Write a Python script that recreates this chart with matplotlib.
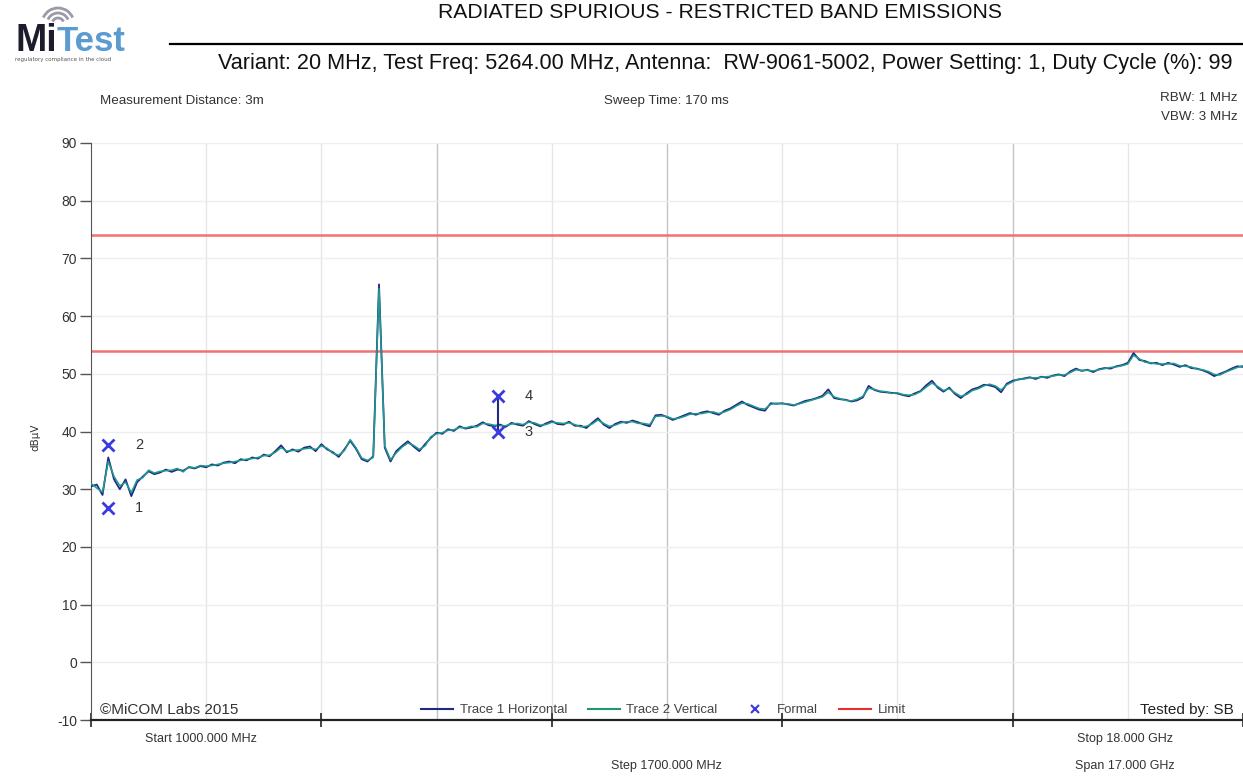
import numpy as np
import matplotlib
matplotlib.use("Agg")
import matplotlib.pyplot as plt
from matplotlib.lines import Line2D
from matplotlib.patches import Arc

# ---------------- data ----------------
freq_start = 1000.0
freq_stop = 18000.0
freq_step = 85.0
freq_mhz = np.arange(freq_start, freq_stop + 1, freq_step)

trace1_h = [
    30.5, 30.8, 29.0, 35.5, 31.7, 30.0, 31.7, 28.8, 31.2, 32.2, 33.1,
    32.6, 32.9, 33.4, 33.0, 33.4, 33.2, 33.8, 33.6, 34.0, 33.8,
    34.3, 34.1, 34.6, 34.8, 34.5, 35.2, 35.0, 35.5, 35.3, 36.0,
    35.7, 36.6, 37.6, 36.4, 36.9, 36.5, 37.2, 37.4, 36.6, 37.8,
    36.9, 36.4, 35.6, 36.9, 38.4, 37.0, 35.2, 34.8, 35.7, 65.5,
    37.2, 34.8, 36.6, 37.5, 38.3, 37.4, 36.6, 37.8, 38.9, 39.8,
    39.6, 40.4, 40.1, 40.9, 40.5, 40.7, 41.0, 41.6, 41.1, 40.9,
    41.2, 40.8, 41.5, 41.2, 41.0, 41.8, 41.3, 40.9, 41.4, 41.8,
    41.3, 41.2, 41.7, 41.0, 41.0, 40.6, 41.5, 42.3, 41.2, 40.6,
    41.3, 41.7, 41.5, 41.9, 41.6, 41.2, 40.9, 42.8, 42.9, 42.5,
    42.0, 42.4, 42.8, 43.2, 42.9, 43.3, 43.5, 43.2, 42.9, 43.6,
    44.0, 44.6, 45.2, 44.6, 44.2, 43.8, 43.6, 44.9, 44.8, 44.9,
    44.7, 44.5, 44.9, 45.3, 45.5, 45.8, 46.2, 47.3, 45.8, 45.6,
    45.5, 45.2, 45.4, 45.9, 47.9, 47.2, 46.9, 46.8, 46.7, 46.6,
    46.3, 46.1, 46.6, 47.0, 48.0, 48.8, 47.6, 46.9, 47.6, 46.5,
    45.8, 46.6, 47.3, 47.6, 48.1, 48.0, 47.7, 46.8, 48.3, 48.8,
    49.0, 49.2, 49.4, 49.1, 49.5, 49.3, 49.7, 49.9, 49.6, 50.4,
    50.9, 50.5, 50.7, 50.3, 50.8, 51.0, 50.9, 51.3, 51.5, 51.9,
    53.6, 52.4, 52.2, 51.8, 51.9, 51.5, 51.9, 51.6, 51.2, 51.5,
    51.0, 50.9, 50.6, 50.2, 49.6, 50.0, 50.4, 50.9, 51.3, 51.2,
]

trace2_v = [
    31.0, 30.2, 29.5, 34.8, 32.2, 30.6, 31.2, 29.4, 31.6, 32.0, 33.3,
    32.8, 33.1, 33.2, 33.3, 33.6, 33.0, 33.9, 33.7, 34.1, 34.0,
    34.1, 34.3, 34.5, 34.6, 34.8, 35.0, 35.2, 35.3, 35.5, 35.8,
    35.9, 36.4, 37.2, 36.6, 36.7, 36.8, 37.0, 37.1, 36.9, 37.5,
    37.1, 36.2, 35.9, 36.7, 38.6, 37.2, 35.4, 35.0, 35.5, 64.8,
    37.5, 35.1, 36.3, 37.3, 38.0, 37.6, 36.9, 37.5, 39.1, 39.6,
    39.8, 40.2, 40.3, 40.7, 40.6, 40.9, 40.8, 41.4, 41.3, 41.1,
    41.0, 41.0, 41.3, 41.4, 41.2, 41.6, 41.5, 41.1, 41.2, 41.6,
    41.5, 41.4, 41.5, 41.2, 40.8, 40.9, 41.3, 42.0, 41.4, 40.9,
    41.1, 41.5, 41.7, 41.7, 41.4, 41.4, 41.2, 42.6, 42.7, 42.6,
    42.2, 42.3, 42.6, 43.0, 43.1, 43.1, 43.3, 43.4, 43.1, 43.4,
    43.8, 44.4, 44.9, 44.8, 44.4, 44.0, 43.9, 44.7, 44.9, 44.8,
    44.8, 44.6, 44.8, 45.1, 45.4, 45.7, 46.0, 46.8, 46.0, 45.7,
    45.4, 45.3, 45.6, 46.1, 47.5, 47.3, 47.0, 46.9, 46.6, 46.7,
    46.4, 46.3, 46.4, 46.9, 47.7, 48.4, 47.8, 47.1, 47.4, 46.7,
    46.1, 46.4, 47.1, 47.4, 47.9, 48.2, 47.9, 47.2, 48.1, 48.6,
    49.1, 49.1, 49.3, 49.3, 49.4, 49.5, 49.6, 49.8, 49.8, 50.2,
    50.7, 50.6, 50.6, 50.5, 50.7, 50.9, 51.1, 51.2, 51.4, 51.7,
    53.2, 52.6, 52.0, 51.9, 51.7, 51.7, 51.7, 51.8, 51.4, 51.3,
    51.2, 50.8, 50.7, 50.4, 49.9, 49.8, 50.3, 50.7, 51.1, 51.4,
]

limit_levels = [74.0, 54.0]

marker_freq = [1251.0, 1251.0, 7006.0, 7006.0]
marker_level = [26.7, 37.6, 39.9, 46.1]
marker_labels = ["1", "2", "3", "4"]

y_ticks = [-10, 0, 10, 20, 30, 40, 50, 60, 70, 80, 90]
grid_step_mhz = 1700.0
strong_grid_mhz = [6100.0, 9500.0, 14600.0]

title_text = "RADIATED SPURIOUS - RESTRICTED BAND EMISSIONS"
subtitle_text = ("Variant: 20 MHz, Test Freq: 5264.00 MHz, Antenna:  RW-9061-5002, "
                 "Power Setting: 1, Duty Cycle (%): 99")

# ---------------- figure ----------------
W, H = 1243, 778
fig = plt.figure(figsize=(W / 100, H / 100), dpi=100)
fig.patch.set_facecolor("white")

def fx(px):
    return px / W

def fy(py):
    return 1 - py / H

ax = fig.add_axes([fx(91), fy(720), fx(1243) - fx(91), fy(143) - fy(720)])
ax.set_xlim(freq_start, freq_stop)
ax.set_ylim(-10, 90)

# grid
for f in np.arange(freq_start + grid_step_mhz, freq_stop, grid_step_mhz):
    strong = any(abs(f - s) < 1 for s in strong_grid_mhz)
    ax.axvline(f, color="#c4c4c4" if strong else "#e6e6e6",
               lw=1.0, zorder=0)
for yv in y_ticks[1:]:
    ax.axhline(yv, color="#eeeeee", lw=1.0, zorder=0)

# limits
for lv in limit_levels:
    ax.axhline(lv, color="#f07272", lw=1.8, zorder=2)

# traces
ax.plot(freq_mhz, trace1_h, color="#1f2a80", lw=1.3, zorder=3)
ax.plot(freq_mhz, trace2_v, color="#1f9a90", lw=1.1, zorder=4)

# markers
ax.plot([marker_freq[2], marker_freq[3]], [marker_level[2], marker_level[3]],
        color="#1f2a80", lw=1.5, zorder=5)
ax.plot(marker_freq, marker_level, linestyle="none", marker="x", ms=9,
        mew=2.0, color="#3a3ae0", zorder=6)
for f, lv, lab in zip(marker_freq, marker_level, marker_labels):
    ax.annotate(lab, (f, lv), xytext=(31, 0), textcoords="offset pixels",
                ha="center", va="center", fontsize=10.5, color="#333333",
                family="Liberation Sans", zorder=2)

# axes styling
for s in ["top", "right"]:
    ax.spines[s].set_visible(False)
ax.spines["left"].set_color("#555555")
ax.spines["bottom"].set_color("#222222")
ax.spines["bottom"].set_linewidth(1.6)
ax.set_yticks(y_ticks)
ax.set_yticklabels([str(v) for v in y_ticks], fontsize=10, color="#333333",
                   family="Liberation Sans")
ax.tick_params(axis="y", direction="out", length=8, width=1, color="#555555", pad=2)
ax.set_xticks(np.arange(freq_start, freq_stop + 1, 2 * grid_step_mhz))
ax.set_xticklabels([])
ax.tick_params(axis="x", direction="inout", length=10, width=1.2, color="#222222")

# legend
handles = [
    Line2D([], [], color="#1f2a80", lw=1.5),
    Line2D([], [], color="#1f9a70", lw=1.5),
    Line2D([], [], color="#3a3ae0", marker="x", linestyle="none", ms=6, mew=1.5),
    Line2D([], [], color="#e83030", lw=1.5),
]
leg = ax.legend(handles, ["Trace 1 Horizontal", "Trace 2 Vertical", "Formal", "Limit"],
                loc="lower center", bbox_to_anchor=(0.497, -0.014), ncol=4,
                frameon=False, handlelength=2.4, columnspacing=1.6,
                handletextpad=0.5, prop={"family": "Liberation Sans", "size": 9.5})
for t in leg.get_texts():
    t.set_color("#444444")

ax.text(9 / 1152, 0.005, "\u00a9MiCOM Labs 2015",
        transform=ax.transAxes, ha="left", va="bottom", fontsize=11,
        color="#333333", family="Liberation Sans")
ax.text(0.992, 0.005, "Tested by: SB", transform=ax.transAxes, ha="right",
        va="bottom", fontsize=11, color="#222222", family="Liberation Sans")

# y label
fig.text(fx(35), fy(437), "dB\u00b5V", rotation=90, ha="center", va="center",
         fontsize=7.5, color="#333333", family="DejaVu Sans")

# header texts
fig.text(fx(720), fy(13), title_text, ha="center", va="center", fontsize=15.2,
         color="#111111", family="Liberation Sans")
fig.add_artist(Line2D([fx(170), fx(1243)], [fy(44), fy(44)], color="black", lw=1.6))
fig.text(fx(1233), fy(64), subtitle_text, ha="right", va="center", fontsize=15.6,
         color="#111111", family="Liberation Sans")

fig.text(fx(100), fy(101), "Measurement Distance: 3m", ha="left", va="center",
         fontsize=9.6, color="#333333", family="Liberation Sans")
fig.text(fx(666), fy(101), "Sweep Time: 170 ms", ha="center", va="center",
         fontsize=9.6, color="#333333", family="Liberation Sans")
fig.text(fx(1238), fy(98), "RBW: 1 MHz", ha="right", va="center",
         fontsize=9.6, color="#333333", family="Liberation Sans")
fig.text(fx(1238), fy(117), "VBW: 3 MHz", ha="right", va="center",
         fontsize=9.6, color="#333333", family="Liberation Sans")

# bottom texts
fig.text(fx(201), fy(739), "Start 1000.000 MHz", ha="center", va="center",
         fontsize=9, color="#333333", family="Liberation Sans")
fig.text(fx(666), fy(766), "Step 1700.000 MHz", ha="center", va="center",
         fontsize=9, color="#333333", family="Liberation Sans")
fig.text(fx(1125), fy(739), "Stop 18.000 GHz", ha="center", va="center",
         fontsize=9, color="#333333", family="Liberation Sans")
fig.text(fx(1125), fy(766), "Span 17.000 GHz", ha="center", va="center",
         fontsize=9, color="#333333", family="Liberation Sans")

# logo
fig.text(fx(15), fy(51), "Mi", ha="left", va="baseline", fontsize=27,
         fontweight="bold", color="#1c1c2c", family="Liberation Sans")
fig.text(fx(57), fy(51), "Test", ha="left", va="baseline", fontsize=25,
         fontweight="bold", color="#5b9bd0", family="Liberation Sans")
fig.text(fx(15), fy(60), "regulatory compliance in the cloud", ha="left",
         va="center", fontsize=4, color="#555555", family="DejaVu Sans")
for r in [6, 11, 16]:
    arc = Arc((fx(58), fy(24)), r * 2 / W, r * 2 / H, theta1=35, theta2=145,
              color="#9a9aa8", lw=2.0, transform=fig.transFigure)
    fig.add_artist(arc)

fig.savefig("out.png", dpi=100, facecolor="white")
